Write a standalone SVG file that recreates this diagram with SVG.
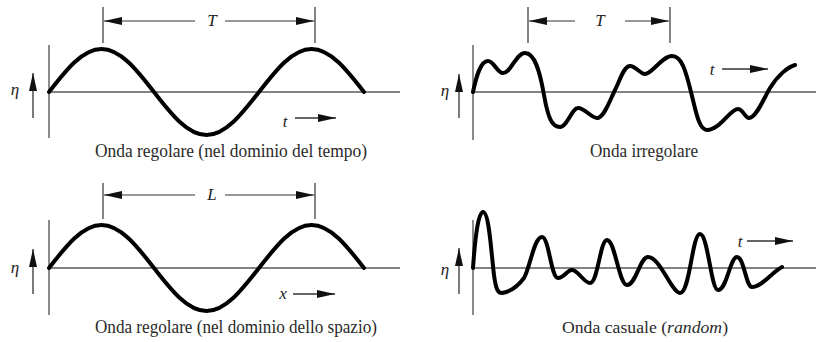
<svg xmlns="http://www.w3.org/2000/svg" width="816" height="342" viewBox="0 0 816 342">
<style>
.axis{stroke:#5a5a5a;stroke-width:1.4;fill:none}
.dim{stroke:#333;stroke-width:1.2;fill:none}
.wave{stroke:#000;stroke-width:4;fill:none;stroke-linejoin:round;stroke-linecap:round}
.arr{stroke:#333;stroke-width:1.3;fill:none}
.lbl{font-family:"Liberation Serif","Times New Roman",serif;font-style:italic;font-size:17px;fill:#222}
.cap{font-family:"Liberation Serif","Times New Roman",serif;font-size:19px;fill:#2a2a2a}
</style>
<defs>
<marker id="ah" viewBox="0 0 18 8" refX="18" refY="4" markerWidth="18" markerHeight="8" markerUnits="userSpaceOnUse" orient="auto-start-reverse">
<path d="M0,0 L18,4 L0,8 z" fill="#111"/>
</marker>
</defs>

<g id="panel-time">
<line class="axis" x1="49" y1="45" x2="49" y2="138"/>
<line class="axis" x1="49" y1="92" x2="400" y2="92"/>
<path class="wave" d="M49,92 C66.1,70 82.5,49 101.5,49 C120.5,49 136.9,70 154,92 C171.1,114 187.5,135 206.5,135 C225.5,135 241.9,114 259,92 C276.1,70 292.5,49 311.5,49 C330.5,49 346.9,70 364,92"/>
<text class="lbl" x="15" y="95" text-anchor="middle">η</text>
<text class="lbl" x="285" y="127" text-anchor="middle">t</text>
<text class="lbl" x="212" y="26" text-anchor="middle">T</text>
<text class="cap" x="231" y="157" text-anchor="middle" textLength="272" lengthAdjust="spacingAndGlyphs">Onda regolare (nel dominio del tempo)</text>
</g>

<g id="panel-irregular">
<line class="axis" x1="473" y1="45" x2="473" y2="140"/>
<line class="axis" x1="473" y1="92" x2="816" y2="92"/>
<path class="wave" d="M473,92 C476,78 480,61 488,61 C494,61 497,73 503,73 C511,73 516,53 525,53 C535,53 540,72 544,95 C548,118 552,127 560,127 C567,127 572,108 578,108 C585,108 591,118 597,118 C604,118 610,100 615,90 C620,80 624,66 630,66 C636,66 640,74 645,74 C652,74 662,56 672,56 C682,56 686,72 691,92 C696,112 699,130 707,130 C720,130 730,109 738,109 C743,109 745,118 749,118 C756,118 763,100 770,88 C778,75 788,67 795,65"/>
<text class="lbl" x="445" y="96" text-anchor="middle">η</text>
<text class="lbl" x="712" y="75" text-anchor="middle">t</text>
<text class="lbl" x="600" y="26" text-anchor="middle">T</text>
<text class="cap" x="644" y="157" text-anchor="middle" textLength="108" lengthAdjust="spacingAndGlyphs">Onda irregolare</text>
</g>

<g id="panel-space">
<line class="axis" x1="49" y1="220" x2="49" y2="315"/>
<line class="axis" x1="49" y1="268" x2="400" y2="268"/>
<path class="wave" d="M49,268 C66.1,246 82.5,225 101.5,225 C120.5,225 136.9,246 154,268 C171.1,290 187.5,311 206.5,311 C225.5,311 241.9,290 259,268 C276.1,246 292.5,225 311.5,225 C330.5,225 346.9,246 364,268"/>
<text class="lbl" x="15" y="273" text-anchor="middle">η</text>
<text class="lbl" x="283" y="299" text-anchor="middle">x</text>
<text class="lbl" x="212" y="200" text-anchor="middle">L</text>
<text class="cap" x="236" y="333" text-anchor="middle" textLength="282" lengthAdjust="spacingAndGlyphs">Onda regolare (nel dominio dello spazio)</text>
</g>

<g id="panel-random">
<line class="axis" x1="473" y1="220" x2="473" y2="315"/>
<line class="axis" x1="473" y1="268" x2="816" y2="268"/>
<path class="wave" d="M473,268 C475,240 478,212 483,212 C489,212 491,250 494,275 C496,290 498,293 502,293 C510,292 518,286 524,278 C530,268 534,237 542,237 C549,237 551,278 558,278 C564,278 567,270 572,270 C578,270 584,283 590,283 C598,283 600,240 607,240 C615,240 619,285 627,285 C636,285 640,257 648,257 C660,257 672,293 680,293 C690,293 692,234 700,234 C708,234 711,290 718,290 C727,290 730,257 737,257 C744,257 746,287 752,287 C762,287 772,272 782,267"/>
<text class="lbl" x="445" y="275" text-anchor="middle">η</text>
<text class="lbl" x="740" y="247" text-anchor="middle">t</text>
<text class="cap" x="645" y="333" text-anchor="middle" style="font-size:17.7px">Onda casuale (<tspan font-style="italic">random</tspan>)</text>
</g>

<g id="connectors">
<line class="dim" x1="103" y1="7" x2="103" y2="43"/>
<line class="dim" x1="315" y1="7" x2="315" y2="43"/>
<line class="dim" x1="104" y1="21" x2="195" y2="21" marker-start="url(#ah)"/>
<line class="dim" x1="225" y1="21" x2="314" y2="21" marker-end="url(#ah)"/>

<line class="dim" x1="528" y1="7" x2="528" y2="43"/>
<line class="dim" x1="670" y1="7" x2="670" y2="43"/>
<line class="dim" x1="529" y1="21" x2="575" y2="21" marker-start="url(#ah)"/>
<line class="dim" x1="625" y1="21" x2="669" y2="21" marker-end="url(#ah)"/>

<line class="dim" x1="103" y1="183" x2="103" y2="219"/>
<line class="dim" x1="315" y1="183" x2="315" y2="219"/>
<line class="dim" x1="104" y1="195" x2="195" y2="195" marker-start="url(#ah)"/>
<line class="dim" x1="225" y1="195" x2="314" y2="195" marker-end="url(#ah)"/>

<line class="arr" x1="33" y1="118" x2="33" y2="73" marker-end="url(#ah)"/>
<line class="arr" x1="459" y1="118" x2="459" y2="74" marker-end="url(#ah)"/>
<line class="arr" x1="33" y1="294" x2="33" y2="249" marker-end="url(#ah)"/>
<line class="arr" x1="459" y1="294" x2="459" y2="248" marker-end="url(#ah)"/>

<line class="arr" x1="295" y1="118" x2="336" y2="118" marker-end="url(#ah)"/>
<line class="arr" x1="722" y1="69" x2="768" y2="69" marker-end="url(#ah)"/>
<line class="arr" x1="293" y1="294" x2="335" y2="294" marker-end="url(#ah)"/>
<line class="arr" x1="747" y1="241" x2="793" y2="241" marker-end="url(#ah)"/>
</g>
</svg>
